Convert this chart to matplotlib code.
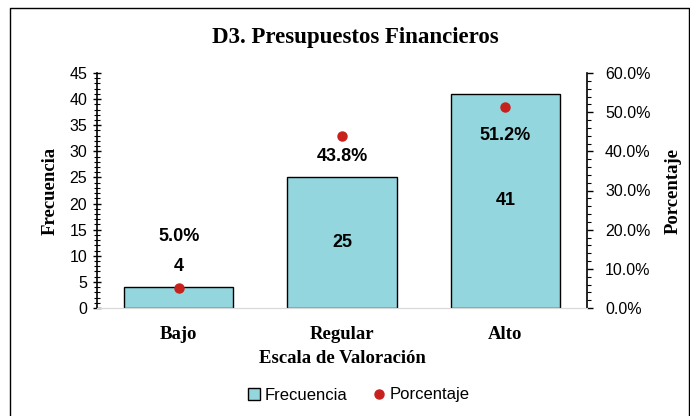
import matplotlib
matplotlib.use('Agg')
import matplotlib.pyplot as plt
from matplotlib.lines import Line2D
from matplotlib.patches import Patch
from matplotlib.ticker import MultipleLocator, FuncFormatter

categorias = ['Bajo', 'Regular', 'Alto']
frecuencia = [4, 25, 41]
porcentaje = [5.0, 43.8, 51.2]

color_barra = '#93D6DD'
color_punto = '#C8201C'
serif = 'Liberation Serif'
sans = 'Liberation Sans'

fig = plt.figure(figsize=(6.9, 4.16), dpi=100)
ax = fig.add_axes([97 / 690, 1 - 308 / 416, 490 / 690, 235 / 416])

x = list(range(len(categorias)))
ax.bar(x, frecuencia, width=0.67, color=color_barra, edgecolor='black', linewidth=1, zorder=2)
ax.set_xlim(-0.5, 2.5)
ax.set_ylim(0, 45)

ax2 = ax.twinx()
ax2.plot(x, porcentaje, 'o', color=color_punto, ms=6.5, zorder=3)
ax2.set_ylim(0, 60)

# spines
for a in (ax, ax2):
    a.spines['top'].set_visible(False)
    a.spines['bottom'].set_color('#d9d9d9')
ax.spines['right'].set_visible(False)
ax2.spines['left'].set_visible(False)
ax.spines['left'].set_linewidth(1.2)
ax2.spines['right'].set_linewidth(1.2)

# ticks
ax.yaxis.set_major_locator(MultipleLocator(5))
ax.yaxis.set_minor_locator(MultipleLocator(1))
ax.tick_params(axis='y', which='major', direction='inout', length=6, width=1, pad=4,
               labelsize=11.5)
ax.tick_params(axis='y', which='minor', direction='inout', length=5, width=0.8)
ax.tick_params(axis='x', length=0, pad=13)
ax.set_xticks(x)
ax.set_xticklabels(categorias, fontfamily=serif, fontweight='bold', fontsize=13.5)
for t in ax.get_yticklabels():
    t.set_fontfamily(sans)

ax2.yaxis.set_major_locator(MultipleLocator(10))
ax2.yaxis.set_minor_locator(MultipleLocator(2))
ax2.yaxis.set_major_formatter(FuncFormatter(lambda v, p: f'{v:.1f}%'))
ax2.tick_params(axis='y', which='major', direction='out', length=4, width=1, pad=9,
                labelsize=11.5)
ax2.tick_params(axis='y', which='minor', direction='out', length=3, width=0.8)
for t in ax2.get_yticklabels():
    t.set_fontfamily(sans)

ax.set_xlabel('Escala de Valoración', fontfamily=serif, fontweight='bold', fontsize=13.5, labelpad=5)
ax.set_ylabel('Frecuencia', fontfamily=serif, fontweight='bold', fontsize=13.5, labelpad=8)
ax2.set_ylabel('Porcentaje', fontfamily=serif, fontweight='bold', fontsize=13.5, labelpad=10)

# data labels
for i, v in enumerate(frecuencia):
    if v > 10:
        ax.text(i, v / 2, str(v), ha='center', va='center', fontfamily=sans,
                fontweight='bold', fontsize=13, zorder=4)
    else:
        ax.annotate(str(v), (i, v), xytext=(0, 14.5), textcoords='offset points',
                    ha='center', va='center', fontfamily=sans, fontweight='bold', fontsize=13)

offsets_pct = [37.5, -14.5, -20]
for i, v in enumerate(porcentaje):
    ax2.annotate(f'{v:.1f}%', (i, v), xytext=(0, offsets_pct[i]), textcoords='offset points',
                 ha='center', va='center', fontfamily=sans, fontweight='bold', fontsize=13)

fig.text(355 / 690, 1 - 37 / 416, 'D3. Presupuestos Financieros', ha='center', va='center',
         fontfamily=serif, fontweight='bold', fontsize=16.5)

handles = [Patch(facecolor=color_barra, edgecolor='black', linewidth=1),
           Line2D([], [], marker='o', color=color_punto, linestyle='none', ms=6.5)]
fig.legend(handles, ['Frecuencia', 'Porcentaje'], loc='center', bbox_to_anchor=(359 / 690, 1 - 395 / 416),
           ncol=2, frameon=False, prop={'family': sans, 'size': 12},
           handlelength=0.7, handleheight=0.7, handletextpad=0.3, columnspacing=1.5)

# chart border
fig.add_artist(Line2D([9.5 / 690, 9.5 / 690, 688.5 / 690, 688.5 / 690],
                      [0, 1 - 7.5 / 416, 1 - 7.5 / 416, 0],
                      transform=fig.transFigure, color='black', lw=1))

fig.savefig('out.png', dpi=100)
